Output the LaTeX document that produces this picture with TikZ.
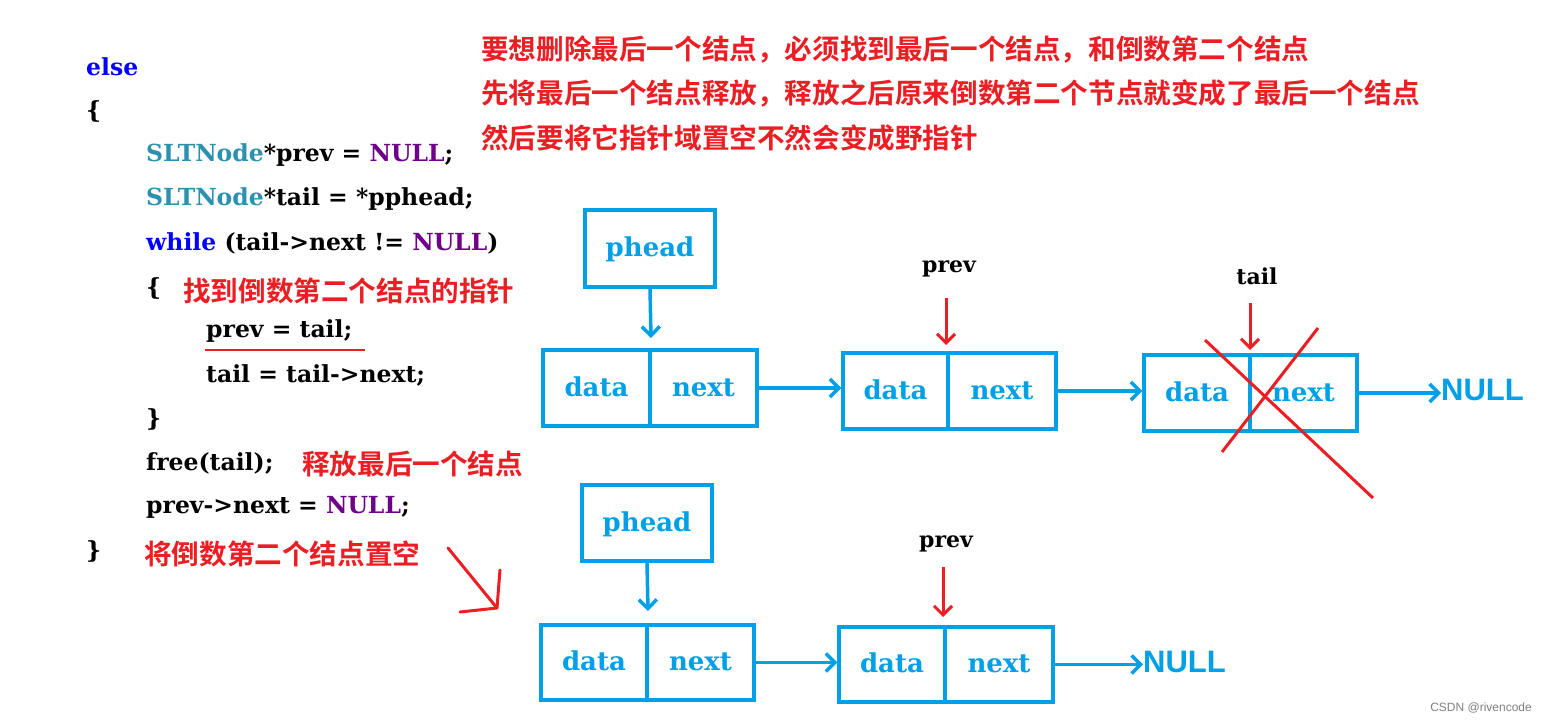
\documentclass[tikz,border=0pt]{standalone}
\usepackage{fontspec}
\setmainfont{DejaVu Serif}
\newfontfamily\cjk{Noto Sans CJK SC}[BoldFont={Noto Sans CJK SC Bold}]
\newfontfamily\sansf{Liberation Sans}
\usetikzlibrary{arrows.meta}
\definecolor{bl}{RGB}{0,160,230}
\definecolor{rd}{RGB}{235,30,35}
\definecolor{kw}{RGB}{0,0,255}
\definecolor{ty}{RGB}{43,145,175}
\definecolor{pu}{RGB}{111,0,138}
\begin{document}
\begin{tikzpicture}[x=1pt,y=-1pt,
 code/.style={anchor=west,inner sep=0,font=\fontsize{23.5}{26}\selectfont\bfseries},
 note/.style={anchor=west,inner sep=0,text=rd,font=\fontsize{27.6}{30}\selectfont\cjk\bfseries},
 cell/.style={draw=bl,line width=3.5pt,text=bl,text height=18pt,text depth=2pt,font=\fontsize{26}{28}\selectfont\bfseries},
 barr/.style={draw=bl,line width=3.5pt,-{Straight Barb[length=9pt,width=18pt,line width=3.5pt]}},
 rarr/.style={draw=rd,line width=3pt,-{Straight Barb[length=9pt,width=18pt,line width=3pt]}},
 lbl/.style={inner sep=0,font=\fontsize{22}{24}\selectfont\bfseries}]
\fill[white] (0,0) rectangle (1546,723);
\useasboundingbox (0,0) rectangle (1546,723);
% code
\node[code] (c1) at (86,67) {\textcolor{kw}{else}};
\node[code] (c2) at (86,111) {\{};
\node[code] (c3) at (146,155) {\textcolor{ty}{SLTNode}*prev = \textcolor{pu}{NULL};};
\node[code] (c4) at (146,199) {\textcolor{ty}{SLTNode}*tail = *pphead;};
\node[code] (c5) at (146,243) {\textcolor{kw}{while} (tail-{}>next != \textcolor{pu}{NULL})};
\node[code] (c6) at (146,288) {\{};
\node[code] (c7) at (206,331) {prev = tail;};
\node[code] (c8) at (206,375) {tail = tail-{}>next;};
\node[code] (c9) at (146,419) {\}};
\node[code] (c10) at (146,463) {free(tail);};
\node[code] (c11) at (146,507) {prev-{}>next = \textcolor{pu}{NULL};};
\node[code] (c12) at (86,551) {\}};
\draw[rd,line width=2.5pt] (205,350) -- (365,350);
% notes
\node[note] (n1) at (481,50) {要想删除最后一个结点，必须找到最后一个结点，和倒数第二个结点};
\node[note] (n2) at (481,94) {先将最后一个结点释放，释放之后原来倒数第二个节点就变成了最后一个结点};
\node[note] (n3) at (481,138) {然后要将它指针域置空不然会变成野指针};
\node[note] (n4) at (183,291) {找到倒数第二个结点的指针};
\node[note] (n5) at (302,464) {释放最后一个结点};
\node[note] (n6) at (144,554) {将倒数第二个结点置空};
% top row
\node[cell,minimum width=130,minimum height=77] (ph1) at (650,248.5) {phead};
\node[cell,minimum width=107,minimum height=76] (d1) at (596.5,388) {data};
\node[cell,minimum width=107,minimum height=76] (x1) at (703.5,388) {next};
\node[cell,minimum width=105,minimum height=76] (d2) at (895.5,391) {data};
\node[cell,minimum width=108,minimum height=76] (x2) at (1002,391) {next};
\node[cell,minimum width=106,minimum height=76] (d3) at (1197,393) {data};
\node[cell,minimum width=107,minimum height=76] (x3) at (1303.5,393) {next};
\node[inner sep=0,text=bl,font=\fontsize{31}{34}\selectfont\sansf\bfseries,anchor=west] (null1) at (1441,390) {NULL};
\draw[barr] (ph1.south) -- (651,338);
\draw[barr] (x1.east) -- (d2.west |- x1.east);
\draw[barr] (x2.east) -- (d3.west |- x2.east);
\draw[barr] (x3.east) -- (null1.west |- x3.east);
\node[lbl] (pv1) at (949,269) {prev};
\node[lbl] (tl1) at (1257,276) {tail};
\coordinate (pa) at (946,345);
\coordinate (ta) at (1250,350);
\draw[rarr] (946,298) -- (pa);
\draw[rarr] (1250,303) -- (ta);
\draw[rd,line width=3pt] (1205,340) -- (1373,498);
\draw[rd,line width=3pt] (1318,328) -- (1222,452);
% bottom row
\node[cell,minimum width=130,minimum height=76] (ph2) at (647,523) {phead};
\node[cell,minimum width=106,minimum height=75] (d4) at (594,662.5) {data};
\node[cell,minimum width=107,minimum height=75] (x4) at (700.5,662.5) {next};
\node[cell,minimum width=106,minimum height=75] (d5) at (892,664.5) {data};
\node[cell,minimum width=108,minimum height=75] (x5) at (999,664.5) {next};
\node[inner sep=0,text=bl,font=\fontsize{31}{34}\selectfont\sansf\bfseries,anchor=west] (null2) at (1143,662) {NULL};
\draw[barr] (ph2.south) -- (648,611);
\draw[barr] (x4.east) -- (d5.west |- x4.east);
\draw[barr] (x5.east) -- (null2.west |- x5.east);
\node[lbl] (pv2) at (946,544) {prev};
\draw[rarr] (943,567) -- (943,617);
% big red arrow
\draw[rd,line width=3pt,line cap=round,line join=round] (448,548) -- (497,608);
\draw[rd,line width=3pt,line cap=round,line join=round] (460,612) -- (497,608) -- (500,570);
\node[inner sep=0,text=gray,font=\fontsize{12}{14}\selectfont\sansf,anchor=east] (wm) at (1532,708) {CSDN @rivencode};
\end{tikzpicture}
\end{document}
